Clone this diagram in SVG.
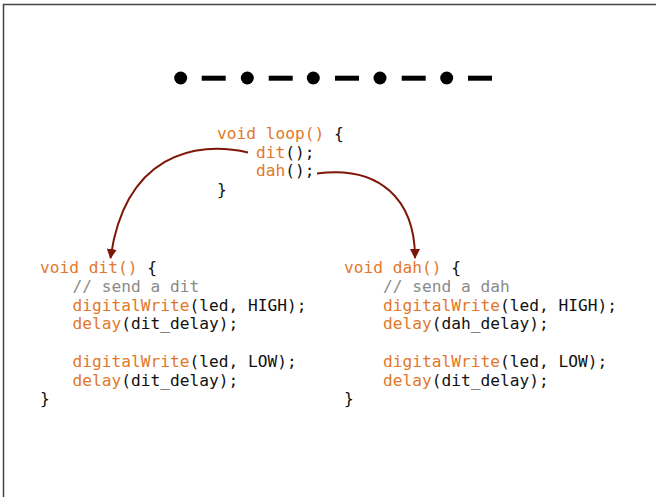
<svg xmlns="http://www.w3.org/2000/svg" width="656" height="497" viewBox="0 0 656 497">
<defs>
<style>
.code{font-family:"DejaVu Sans Mono",monospace;font-size:16.2px;fill:#111;white-space:pre}
.kw{fill:#E2782A}
.cm{fill:#8a8a8a}
.conn{fill:none;stroke:#7E1608;stroke-width:2}
</style>
<marker id="ah" viewBox="0 0 10 10" refX="9" refY="5" markerWidth="5" markerHeight="5" orient="auto" markerUnits="strokeWidth">
<path d="M0,0 L10,5 L0,10 z" fill="#7E1608"/>
</marker>
</defs>
<rect x="0" y="0" width="656" height="497" fill="#fff"/>
<path d="M3.5,497 V4.5 H656" fill="none" stroke="#444" stroke-width="1.5"/>
<g id="morse" fill="#000">
<circle cx="180.7" cy="78" r="6.5"/>
<rect x="201.7" y="75.7" width="24" height="5"/>
<circle cx="247.3" cy="78" r="6.5"/>
<rect x="268.7" y="75.7" width="24" height="5"/>
<circle cx="313.3" cy="78" r="6.5"/>
<rect x="335" y="75.7" width="24" height="5"/>
<circle cx="380" cy="78" r="6.5"/>
<rect x="401.7" y="75.7" width="24" height="5"/>
<circle cx="446.7" cy="78" r="6.5"/>
<rect x="468" y="75.7" width="24" height="5"/>
</g>
<g id="loop" class="code">
<text x="217" y="139"><tspan class="kw">void loop()</tspan> {</text>
<text x="256" y="157.7"><tspan class="kw">dit</tspan>();</text>
<text x="256" y="176.4"><tspan class="kw">dah</tspan>();</text>
<text x="217" y="195">}</text>
</g>
<g id="dit" class="code">
<text x="40" y="273.3"><tspan class="kw">void dit()</tspan> {</text>
<text x="72.5" y="292" class="cm">// send a dit</text>
<text x="72.5" y="310.7"><tspan class="kw">digitalWrite</tspan>(led, HIGH);</text>
<text x="72.5" y="329.4"><tspan class="kw">delay</tspan>(dit_delay);</text>
<text x="72.5" y="366.8"><tspan class="kw">digitalWrite</tspan>(led, LOW);</text>
<text x="72.5" y="385.5"><tspan class="kw">delay</tspan>(dit_delay);</text>
<text x="40" y="404.2">}</text>
</g>
<g id="dah" class="code">
<text x="344" y="273.3"><tspan class="kw">void dah()</tspan> {</text>
<text x="383" y="292" class="cm">// send a dah</text>
<text x="383" y="310.7"><tspan class="kw">digitalWrite</tspan>(led, HIGH);</text>
<text x="383" y="329.4"><tspan class="kw">delay</tspan>(dah_delay);</text>
<text x="383" y="366.8"><tspan class="kw">digitalWrite</tspan>(led, LOW);</text>
<text x="383" y="385.5"><tspan class="kw">delay</tspan>(dit_delay);</text>
<text x="344" y="404.2">}</text>
</g>
<g id="connectors">
<path class="conn" d="M248,152.5 C195,140 125,155 110.5,258" marker-end="url(#ah)"/>
<path class="conn" d="M317,173.5 C380,165 415,200 415,258" marker-end="url(#ah)"/>
</g>
</svg>
